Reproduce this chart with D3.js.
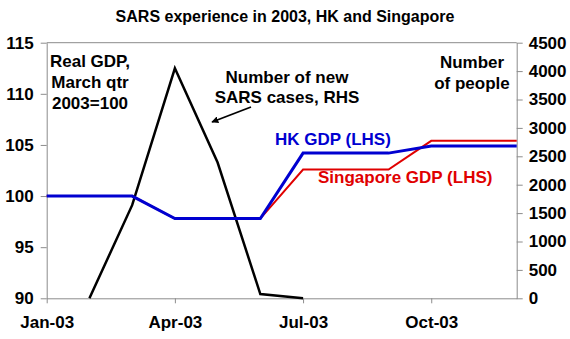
<!DOCTYPE html>
<html>
<head>
<meta charset="utf-8">
<script src="https://cdn.jsdelivr.net/npm/d3@7"></script>
<style>
  html, body { margin: 0; padding: 0; background: #fff; }
  svg { display: block; font-family: "Liberation Sans", Arial, sans-serif; font-weight: bold; }
</style>
</head>
<body>
<svg id="chart" width="570" height="339"></svg>
<script>
// Monthly observations, 2003
const months = ["Jan-03","Feb-03","Mar-03","Apr-03","May-03","Jun-03","Jul-03","Aug-03","Sep-03","Oct-03","Nov-03","Dec-03"];
const tickMonths = ["Jan-03","Apr-03","Jul-03","Oct-03"];
// Real GDP, March quarter 2003 = 100
const hkGdp = [100,100,100,97.8,97.8,97.8,104.2,104.2,104.2,104.9,104.9,104.9];
const sgGdp = [100,100,100,97.8,97.8,97.8,102.6,102.6,102.6,105.4,105.4,105.4];
// Number of new SARS cases (right-hand scale)
const sarsCases = [null,0,1640,4050,2390,75,0,null,null,null,null,null];
const leftTicks = [90,95,100,105,110,115];
const rightTicks = [0,500,1000,1500,2000,2500,3000,3500,4000,4500];

const svg = d3.select("#chart");
const m = { left: 46.7, right: 516.7, top: 42.7, bottom: 298.3 };

const x = d3.scalePoint().domain(months).range([m.left, m.right]);
const yL = d3.scaleLinear().domain([90,115]).range([m.bottom, m.top]);
const yR = d3.scaleLinear().domain([0,4500]).range([m.bottom, m.top]);

const axisColor = "#8c8c8c";
const fs = 17;

// Title
svg.append("text").attr("x", 285).attr("y", 22).attr("text-anchor", "middle")
  .attr("font-size", 16).attr("fill", "#000")
  .text("SARS experience in 2003, HK and Singapore");

// Top border of the plot area
svg.append("line").attr("x1", m.left).attr("x2", m.right)
  .attr("y1", m.top).attr("y2", m.top)
  .attr("stroke", axisColor).attr("stroke-width", 1);

function styleAxis(g) {
  g.selectAll(".domain").attr("stroke", axisColor);
  g.selectAll(".tick line").attr("stroke", axisColor);
  g.selectAll(".tick text").attr("fill", "#000")
    .attr("font-size", fs).attr("font-weight", "bold")
    .attr("font-family", "'Liberation Sans', Arial, sans-serif");
}

svg.append("g").attr("transform", `translate(${m.left},0)`)
  .call(d3.axisLeft(yL).tickValues(leftTicks).tickSize(6).tickSizeOuter(0).tickPadding(7))
  .call(styleAxis);

svg.append("g").attr("transform", `translate(${m.right},0)`)
  .call(d3.axisRight(yR).tickValues(rightTicks).tickFormat(d3.format("d"))
    .tickSize(6).tickSizeOuter(0).tickPadding(6))
  .call(styleAxis);

svg.append("g").attr("transform", `translate(0,${m.bottom})`)
  .call(d3.axisBottom(x).tickValues(tickMonths).tickSize(5).tickSizeOuter(0).tickPadding(13))
  .call(styleAxis);

// Series lines
const lineL = d3.line().defined(d => d.v != null).x(d => x(d.m)).y(d => yL(d.v));
const lineR = d3.line().defined(d => d.v != null).x(d => x(d.m)).y(d => yR(d.v));

const toPts = arr => arr.map((v, i) => ({ m: months[i], v }));

svg.append("path").datum(toPts(sarsCases)).attr("d", lineR)
  .attr("fill", "none").attr("stroke", "#000").attr("stroke-width", 2.5)
  .attr("stroke-linejoin", "miter");

svg.append("path").datum(toPts(sgGdp)).attr("d", lineL)
  .attr("fill", "none").attr("stroke", "#e00000").attr("stroke-width", 2);

svg.append("path").datum(toPts(hkGdp)).attr("d", lineL)
  .attr("fill", "none").attr("stroke", "#0000d0").attr("stroke-width", 3);

// Annotations
function multiLine(xPos, yPos, lines, color, anchor, gap) {
  const t = svg.append("text").attr("x", xPos).attr("y", yPos)
    .attr("text-anchor", anchor).attr("font-size", fs).attr("fill", color);
  lines.forEach((s, i) => t.append("tspan").attr("x", xPos).attr("dy", i ? gap : 0).text(s));
}
multiLine(90, 67, ["Real GDP,", "March qtr", "2003=100"], "#000", "middle", 20.8);
multiLine(287, 83, ["Number of new", "SARS cases, RHS"], "#000", "middle", 20);
multiLine(472, 68, ["Number", "of people"], "#000", "middle", 21);

svg.append("text").attr("x", 275).attr("y", 145).attr("font-size", fs)
  .attr("fill", "#0000d0").text("HK GDP (LHS)");
svg.append("text").attr("x", 318).attr("y", 183).attr("font-size", fs)
  .attr("fill", "#e00000").text("Singapore GDP (LHS)");

// Arrow pointing at the SARS line
svg.append("defs").append("marker").attr("id", "arrowHead")
  .attr("viewBox", "0 0 10 10").attr("refX", 9).attr("refY", 5)
  .attr("markerWidth", 7).attr("markerHeight", 7).attr("orient", "auto")
  .attr("markerUnits", "userSpaceOnUse")
  .append("path").attr("d", "M0,0 L10,5 L0,10 z").attr("fill", "#000");
svg.append("line").attr("x1", 251).attr("y1", 107).attr("x2", 212).attr("y2", 122)
  .attr("stroke", "#000").attr("stroke-width", 1.8).attr("marker-end", "url(#arrowHead)");
</script>
</body>
</html>
